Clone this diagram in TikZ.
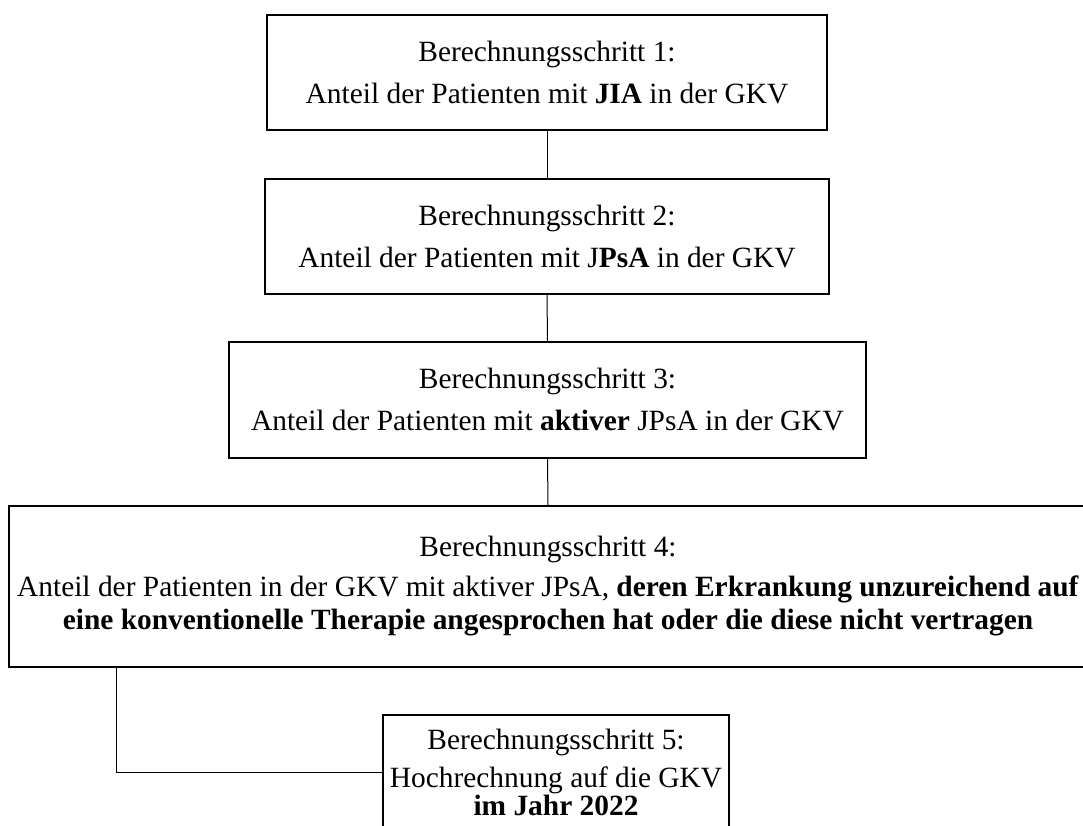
\documentclass[tikz,border=0pt]{standalone}
\usepackage{fontspec}
\setmainfont{Liberation Serif}
\begin{document}
\begin{tikzpicture}[x=1pt,y=1pt,
  box/.style={draw, line width=1.4pt, inner sep=0pt, align=center, font=\fontsize{29.4}{33}\selectfont},
  link/.style={line width=1pt}]
\useasboundingbox (0,0) rectangle (1083,-825);
\clip (0,0) rectangle (1083,-825);
\node[box, minimum width=560pt, minimum height=115pt] (b1) at (547,-72.5)
  {Berechnungsschritt 1:\\[9pt] Anteil der Patienten mit \textbf{JIA} in der GKV};
\node[box, minimum width=564pt, minimum height=115pt] (b2) at (547,-236.5)
  {Berechnungsschritt 2:\\[9pt] Anteil der Patienten mit J\textbf{PsA} in der GKV};
\node[box, minimum width=637pt, minimum height=116pt] (b3) at (547.5,-400)
  {Berechnungsschritt 3:\\[9pt] Anteil der Patienten mit \textbf{aktiver} JPsA in der GKV};
\node[box, minimum width=1078pt, minimum height=161pt] (b4) at (548,-586.5)
  {Berechnungsschritt 4:\\[7pt] Anteil der Patienten in der GKV mit aktiver JPsA, \textbf{deren Erkrankung unzureichend auf}\\ \textbf{eine konventionelle Therapie angesprochen hat oder die diese nicht vertragen}};
\node[box, minimum width=346pt, minimum height=114pt] (b5) at (556,-772)
  {Berechnungsschritt 5:\\[5pt] Hochrechnung auf die GKV\\[-5pt] \textbf{im Jahr 2022}};
\draw[link] (b1.south) -- (b2.north);
\draw[link] (b2.south) -- (b3.north);
\draw[link] (b3.south) -- (b4.north);
\draw[link] ([xshift=108pt]b4.south west) |- (b5.west);
\end{tikzpicture}
\end{document}
